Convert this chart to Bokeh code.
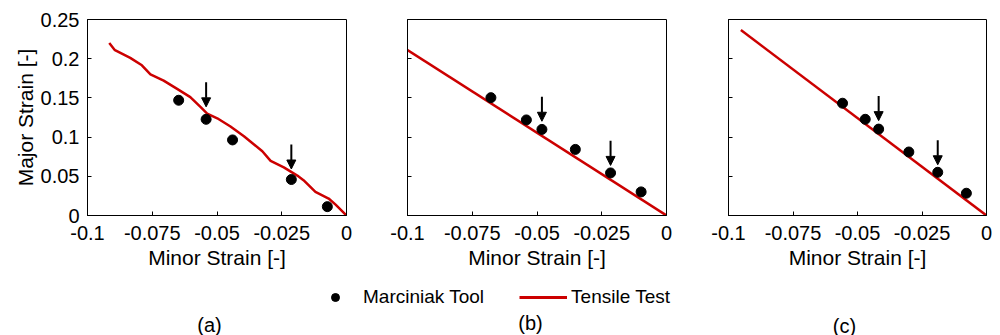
from bokeh.plotting import figure
from bokeh.layouts import column, row
from bokeh.models import (Range1d, FixedTicker, CustomJSTickFormatter, Arrow, NormalHead,
                          ColumnDataSource, Legend, LegendItem, Label)
from bokeh.embed import file_html
from bokeh.resources import INLINE

# ---------------- data ----------------
x_ticks = [-0.1, -0.075, -0.05, -0.025, 0.0]
y_ticks = [0.0, 0.05, 0.1, 0.15, 0.2, 0.25]

# panel (a)
tensile_a_x = [-0.0916, -0.0894, -0.0835, -0.0790, -0.0757, -0.0706, -0.0654, -0.0603, -0.0564,
               -0.0538, -0.0499, -0.0448, -0.0396, -0.0357, -0.0325, -0.0293, -0.0242, -0.0190,
               -0.0166, -0.0120, -0.0069, -0.0042, 0.0]
tensile_a_y = [0.220, 0.2108, 0.201, 0.1916, 0.180, 0.172, 0.1615, 0.151, 0.1386,
               0.130, 0.124, 0.1135, 0.101, 0.0906, 0.082, 0.0696, 0.0613, 0.0509,
               0.045, 0.030, 0.0216, 0.0138, 0.0]
marc_a_x = [-0.0648, -0.0542, -0.044, -0.0213, -0.0074]
marc_a_y = [0.147, 0.1227, 0.0964, 0.0459, 0.0113]
arrow_a_x = [-0.0542, -0.0213]
arrow_a_y0 = [0.170, 0.0906]
arrow_a_y1 = [0.1386, 0.0593]

# panel (b)
tensile_b_x = [-0.1, 0.0]
tensile_b_y = [0.211, 0.0]
marc_b_x = [-0.0678, -0.0541, -0.0481, -0.0352, -0.0216, -0.0098]
marc_b_y = [0.1503, 0.1219, 0.1098, 0.0843, 0.0543, 0.0301]
arrow_b_x = [-0.0481, -0.0216]
arrow_b_y0 = [0.1515, 0.0952]
arrow_b_y1 = [0.1202, 0.0639]

# panel (c)
tensile_c_x = [-0.0952, 0.0]
tensile_c_y = [0.2366, 0.0]
marc_c_x = [-0.0558, -0.0470, -0.0418, -0.0301, -0.0189, -0.0078]
marc_c_y = [0.1432, 0.1227, 0.1102, 0.081, 0.0551, 0.0284]
arrow_c_x = [-0.0418, -0.0189]
arrow_c_y0 = [0.1523, 0.096]
arrow_c_y1 = [0.121, 0.0647]

panel_labels = ["(a)", "(b)", "(c)"]
x_label = "Minor Strain [-]"
y_label = "Major Strain [-]"
legend_labels = ["Marciniak Tool", "Tensile Test"]

# ---------------- style ----------------
FONT = "Liberation Sans"
RED = "#CC0000"
FMT = CustomJSTickFormatter(code="""
if (Math.abs(tick) < 1e-12) { return "0"; }
return tick.toFixed(3).replace(/0+$/, "");
""")
EMPTY = CustomJSTickFormatter(code="return '';")

ROW_H = 284
FRAME_H = 200


def make_panel(width, left, right, top, tx, ty, mx, my, ax, ay0, ay1, show_y):
    p = figure(width=width, height=ROW_H, output_backend="svg", toolbar_location=None,
               x_range=Range1d(-0.1, 0.0), y_range=Range1d(0.0, 0.25),
               min_border_left=left, min_border_right=right,
               min_border_top=top, min_border_bottom=ROW_H - top - FRAME_H)
    p.grid.visible = False
    p.outline_line_color = "black"
    p.outline_line_width = 1
    p.background_fill_color = "white"
    p.border_fill_color = "white"
    for ax_ in (p.xaxis[0], p.yaxis[0]):
        ax_.axis_line_color = "black"
        ax_.major_tick_in = 4
        ax_.major_tick_out = 0
        ax_.minor_tick_line_color = None
        ax_.major_tick_line_color = "black"
        ax_.major_label_text_font = FONT
        ax_.major_label_text_font_size = "20px"
        ax_.major_label_text_color = "black"
        ax_.axis_label_text_font = FONT
        ax_.axis_label_text_font_size = "21px"
        ax_.axis_label_text_font_style = "normal"
        ax_.axis_label_text_color = "black"
    p.xaxis.ticker = FixedTicker(ticks=x_ticks)
    p.yaxis.ticker = FixedTicker(ticks=y_ticks)
    p.xaxis.formatter = FMT
    p.xaxis.major_label_standoff = 10
    p.xaxis.axis_label = x_label
    p.xaxis.axis_label_standoff = 3
    if show_y:
        p.yaxis.formatter = FMT
        p.yaxis.axis_label = y_label
        p.yaxis.major_label_standoff = 8
        p.yaxis.axis_label_standoff = 1
    else:
        p.yaxis.formatter = EMPTY
        p.yaxis.major_label_standoff = 0

    p.line(tx, ty, line_color=RED, line_width=2.5)
    p.scatter(mx, my, size=10, fill_color="black", line_color="black")
    src = ColumnDataSource(dict(x=ax, y0=ay0, y1=ay1))
    p.add_layout(Arrow(end=NormalHead(size=9, fill_color="black", line_color="black"),
                       x_start="x", y_start="y0", x_end="x", y_end="y1",
                       line_width=2, line_color="black", source=src))
    return p


p1 = make_panel(370, 87, 24, 19, tensile_a_x, tensile_a_y, marc_a_x, marc_a_y,
                arrow_a_x, arrow_a_y0, arrow_a_y1, True)
p2 = make_panel(320, 37, 24, 15, tensile_b_x, tensile_b_y, marc_b_x, marc_b_y,
                arrow_b_x, arrow_b_y0, arrow_b_y1, False)
p3 = make_panel(310, 38, 14, 15, tensile_c_x, tensile_c_y, marc_c_x, marc_c_y,
                arrow_c_x, arrow_c_y0, arrow_c_y1, False)

# bottom strip: legend and panel captions
BOT_H = 335 - ROW_H
pb = figure(width=1000, height=BOT_H, output_backend="svg", toolbar_location=None,
            x_range=Range1d(0, 1000), y_range=Range1d(0, BOT_H),
            min_border=0, min_border_left=0, min_border_right=0,
            min_border_top=0, min_border_bottom=0)
pb.axis.visible = False
pb.grid.visible = False
pb.outline_line_color = None
nan = float("nan")
dot_leg = pb.scatter(x=[nan], y=[nan], size=10, fill_color="black", line_color="black")
line_leg = pb.line(x=[nan, nan], y=[nan, nan], line_color=RED, line_width=3)
leg = Legend(items=[LegendItem(label=legend_labels[0], renderers=[dot_leg]),
                    LegendItem(label=legend_labels[1], renderers=[line_leg])],
             orientation="horizontal", location=(311, 27),
             glyph_width=48, glyph_height=20, label_standoff=4, spacing=35,
             padding=0, margin=0, border_line_color=None, background_fill_alpha=0,
             label_text_font=FONT, label_text_font_size="19px", label_text_color="black")
pb.add_layout(leg, "center")
for txt, xc, yc in zip(panel_labels, [209, 530, 844], [10.5, 13, 10]):
    pb.add_layout(Label(x=xc, y=yc, text=txt, text_align="center", text_baseline="middle",
                        text_font=FONT, text_font_size="20px", text_color="black"))

layout = column(row(p1, p2, p3), pb)
open("out.html", "w").write(file_html(layout, INLINE))
